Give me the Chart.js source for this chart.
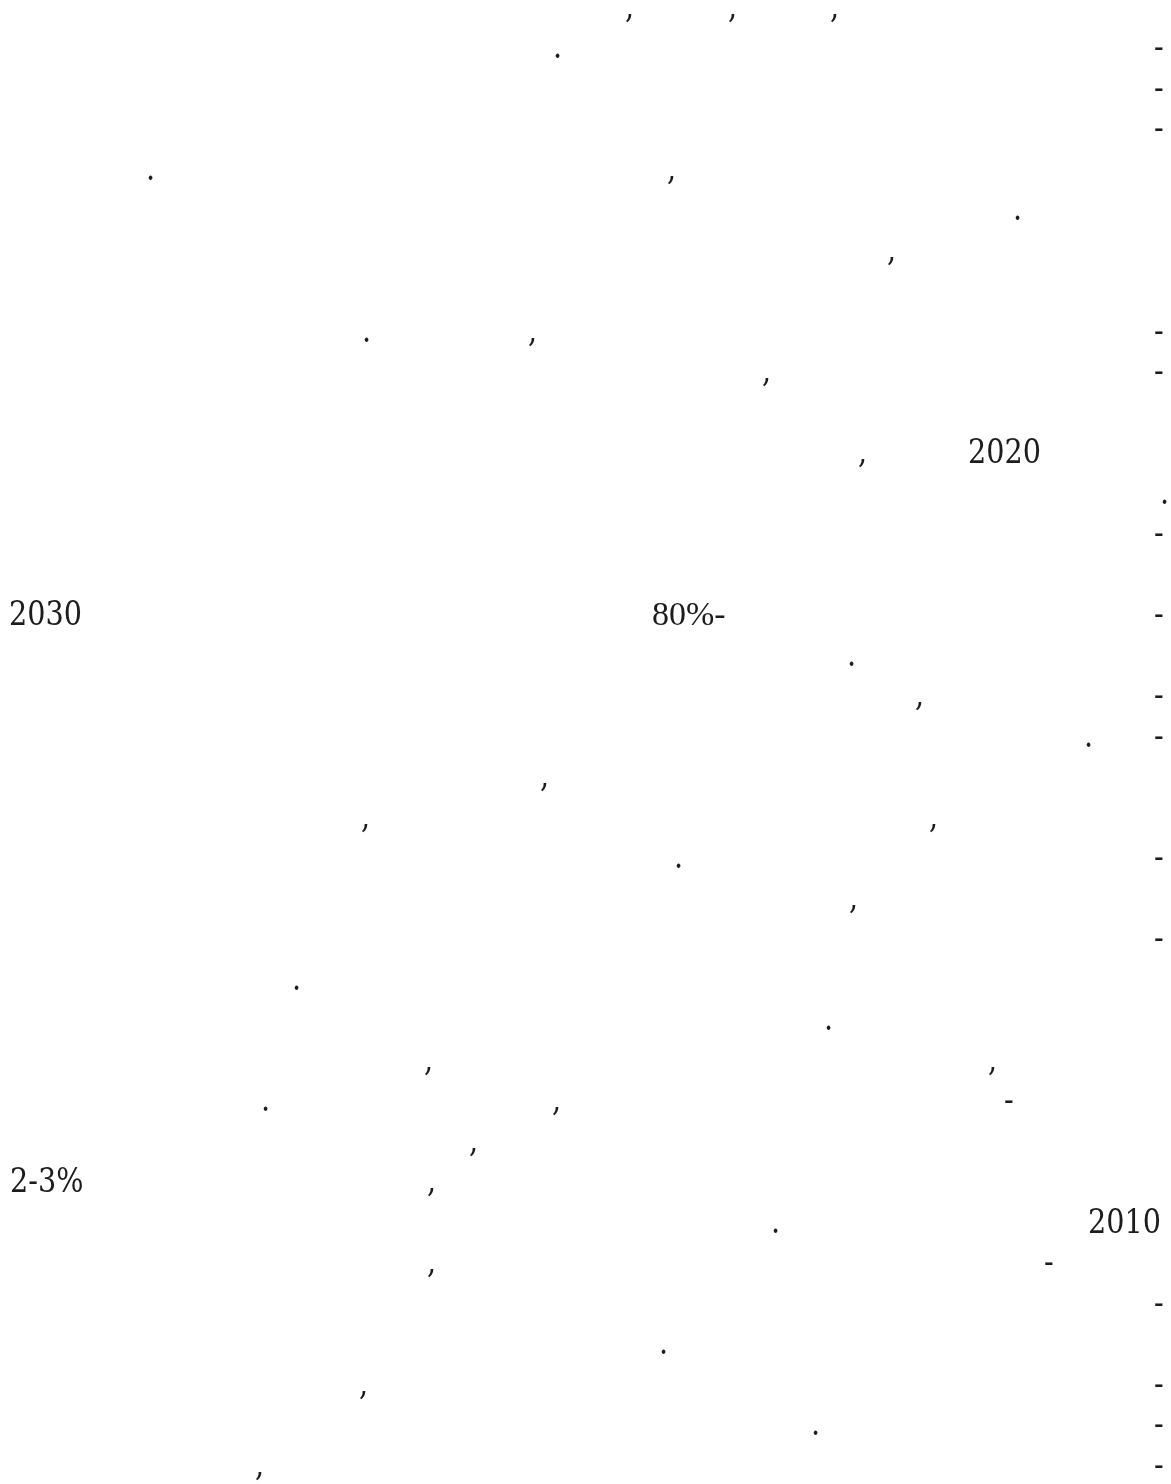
<!DOCTYPE html>
<html>
<head>
<meta charset="utf-8">
<script src="https://cdn.jsdelivr.net/npm/chart.js@4/dist/chart.umd.min.js"></script>
<style>
  html,body{margin:0;padding:0;background:#fff;}
  #wrap{width:1171px;height:1484px;position:relative;}
</style>
</head>
<body>
<div id="wrap"><canvas id="chart"></canvas></div>
<script>
// testo visibile: solo punteggiatura e numeri, riga per riga
const tokens = [
  ',', ',', ',',
  '.', '-',
  '-',
  '-',
  '.', ',',
  '.',
  ',',
  '.', ',', '-',
  ',', '-',
  ',', '2020',
  '.',
  '-',
  '2030', '-',
  '.',
  ',', '-',
  '.', '-',
  ',',
  ',', ',',
  '.', '-',
  ',',
  '-',
  '.',
  '.',
  ',', ',',
  '.', ',', '-',
  ',',
  '2-3%', ',',
  '.', '2010',
  ',', '-',
  '-',
  '.',
  ',', '-',
  '.', '-',
  ',', '-'
];
const lineNo = [
  0, 0, 0,
  1, 1,
  2,
  3,
  4, 4,
  5,
  6,
  8, 8, 8,
  9, 9,
  11, 11,
  12,
  13,
  15, 15,
  16,
  17, 17,
  18, 18,
  19,
  20, 20,
  21, 21,
  22,
  23,
  24,
  25,
  26, 26,
  27, 27, 27,
  28,
  29, 29,
  30, 30,
  31, 31,
  32,
  33,
  34, 34,
  35, 35,
  36, 36
];
const xStart = [
  625, 728, 830,
  553, 1154,
  1154,
  1154,
  146, 667,
  1013,
  887,
  362, 528, 1154,
  762, 1154,
  858, 968,
  1160,
  1154,
  9, 1154,
  847,
  915, 1154,
  1084, 1154,
  540,
  361, 929,
  674, 1154,
  849,
  1154,
  292,
  824,
  424, 988,
  261, 552, 1004,
  469,
  10, 427,
  771, 1088,
  427, 1044,
  1154,
  659,
  359, 1154,
  811, 1154,
  255, 1154
];
// il "80%-" ha un carattere diverso
const otherTokens = ['80%-'];
const otherLine = [15];
const otherX = [652];

const LINES = 1484, W = 1171;

const textPlugin = {
  id:'glyphs',
  afterDatasetsDraw(chart){
    const ctx = chart.ctx;
    chart.data.datasets.forEach((ds, di)=>{
      const meta = chart.getDatasetMeta(di);
      const sx = ds.stretch || 1;
      ctx.save();
      ctx.font = ds.font;
      ctx.fillStyle = ds.color;
      ctx.textAlign = 'left';
      ctx.textBaseline = 'alphabetic';
      meta.data.forEach((el, i)=>{
        ctx.save();
        ctx.translate(el.x, el.y);
        ctx.scale(sx, 1);
        ctx.fillText(ds.labels[i], 0, 0);
        ctx.restore();
      });
      ctx.restore();
    });
  }
};

document.addEventListener('DOMContentLoaded', ()=>{
  new Chart(document.getElementById('chart'), {
    type:'scatter',
    data:{
      datasets:[
        {
          data: xStart.map((x,i)=>({x:x, y:lineNo[i]})),
          labels: tokens,
          font: '33px "DejaVu Serif", serif',
          stretch: 0.87,
          color:'#1c1c1c',
          pointRadius:0
        },
        {
          data: otherX.map((x,i)=>({x:x, y:otherLine[i]})),
          labels: otherTokens,
          font: '34px "Liberation Serif", serif',
          color:'#1c1c1c',
          pointRadius:0
        }
      ]
    },
    options:{
      responsive:true,
      maintainAspectRatio:false,
      animation:false,
      layout:{padding:0},
      plugins:{legend:{display:false}, tooltip:{enabled:false}},
      scales:{
        x:{type:'linear', display:false, min:0, max:W},
        y:{type:'linear', display:false, reverse:true,
           min:-17.5/40.5, max:(LINES-17.5)/40.5}
      }
    },
    plugins:[textPlugin]
  });
});
</script>
</body>
</html>
